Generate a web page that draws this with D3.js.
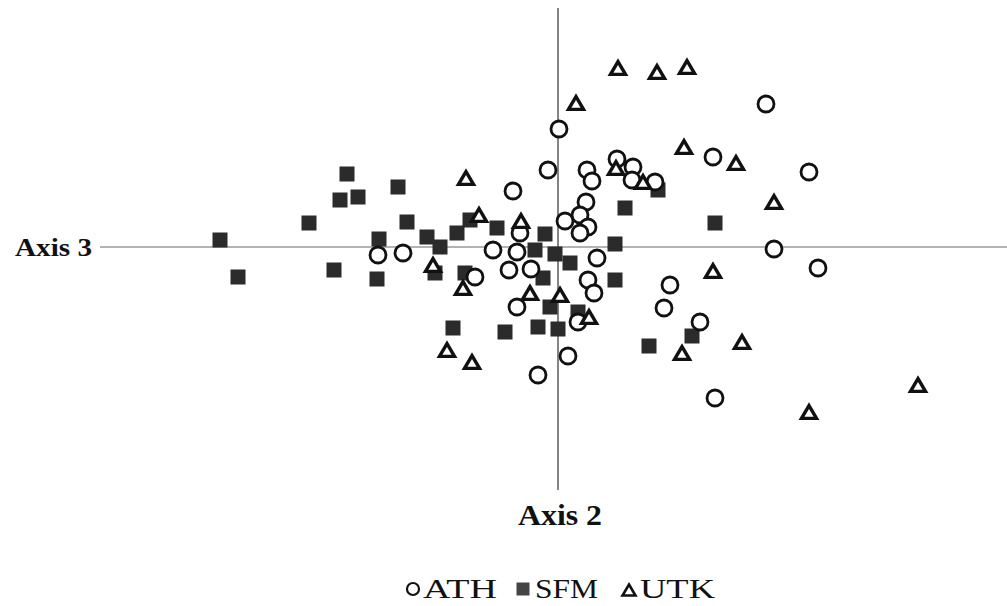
<!DOCTYPE html>
<html>
<head>
<meta charset="utf-8">
<script src="https://cdn.jsdelivr.net/npm/d3@7"></script>
<style>
  body { margin: 0; background: #fff; }
  svg { display: block; }
  text { font-family: "Liberation Serif", "Times New Roman", serif; fill: #111; }
</style>
</head>
<body>
<div id="chart"></div>
<script>
// ordination scores (axis 2 = horizontal, axis 3 = vertical)
var groups = ['ATH', 'SFM', 'UTK'];

var athX = [-1.80,-1.55,-0.83,-0.45,0.01,-0.10,0.29,0.34,0.59,0.75,0.74,0.97,0.28,0.22,0.07,0.30,0.22,-0.38,-0.65,-0.41,-0.49,-0.27,0.39,0.30,0.36,-0.41,0.20,0.10,-0.20,2.08,1.55,2.51,2.16,2.60,1.12,1.06,1.42,1.57];
var athY = [-0.08,-0.06,-0.30,0.56,1.18,0.77,0.77,0.66,0.88,0.80,0.67,0.65,0.45,0.32,0.26,0.20,0.14,0.14,-0.03,-0.05,-0.23,-0.22,-0.11,-0.33,-0.46,-0.60,-0.75,-1.09,-1.28,1.43,0.90,0.75,-0.02,-0.21,-0.38,-0.61,-0.75,-1.51];

var sfmX = [-2.11,-2.18,-2.00,-2.49,-3.38,-3.20,-2.24,-1.79,-1.81,-1.60,-1.51,-1.31,-1.18,-1.01,-0.88,-0.61,-1.23,-0.93,-0.13,-0.23,-0.03,0.12,-0.15,-0.08,0.20,-0.20,0.00,-0.53,-1.05,1.00,0.67,0.57,0.57,1.57,1.34,0.91];
var sfmY = [0.73,0.47,0.50,0.24,0.07,-0.30,-0.23,0.08,-0.32,0.60,0.25,0.10,0.00,0.14,0.27,0.19,-0.26,-0.26,0.13,-0.03,-0.07,-0.16,-0.31,-0.60,-0.65,-0.80,-0.82,-0.85,-0.81,0.57,0.39,0.03,-0.33,0.24,-0.89,-0.99];

var utkX = [0.60,0.99,1.29,0.18,1.26,0.58,0.85,1.78,2.16,1.55,1.84,1.24,3.60,2.51,-0.92,-0.79,-0.37,-1.25,-0.95,-0.28,0.02,0.31,-1.11,-0.86];
var utkY = [1.79,1.75,1.80,1.44,1.00,0.79,0.65,0.84,0.45,-0.24,-0.95,-1.06,-1.38,-1.65,0.69,0.32,0.26,-0.18,-0.41,-0.46,-0.48,-0.70,-1.03,-1.15];

var width = 1007, height = 606;

var x = d3.scaleLinear().domain([-5.58, 4.49]).range([0, width]);
var y = d3.scaleLinear().domain([2.47, -3.59]).range([0, height]);

var svg = d3.select('#chart').append('svg')
  .attr('width', width)
  .attr('height', height);

// axis lines through the origin
svg.append('line')
  .attr('x1', x(-4.58)).attr('x2', width)
  .attr('y1', y(0)).attr('y2', y(0))
  .attr('stroke', '#666').attr('stroke-width', 1);
svg.append('line')
  .attr('x1', x(0)).attr('x2', x(0))
  .attr('y1', y(2.39)).attr('y2', y(-2.43))
  .attr('stroke', '#333').attr('stroke-width', 1.2);

svg.append('text')
  .attr('x', 15).attr('y', y(0) + 9)
  .attr('textLength', 77).attr('lengthAdjust', 'spacingAndGlyphs')
  .style('font-size', '26px').style('font-weight', 'bold')
  .text('Axis 3');
svg.append('text')
  .attr('x', 518).attr('y', 525)
  .attr('textLength', 84).attr('lengthAdjust', 'spacingAndGlyphs')
  .style('font-size', '29px').style('font-weight', 'bold')
  .text('Axis 2');

function tri(s) {
  var w = s, h = s * 0.85;
  return 'M0,' + (-h / 2) + 'L' + (w / 2) + ',' + (h / 2) + 'L' + (-w / 2) + ',' + (h / 2) + 'Z';
}

function pts(xs, ys) {
  return xs.map(function(v, i) { return [v, ys[i]]; });
}

// SFM squares
svg.append('g').selectAll('rect')
  .data(pts(sfmX, sfmY))
  .enter().append('rect')
  .attr('x', function(d) { return x(d[0]) - 7.5; })
  .attr('y', function(d) { return y(d[1]) - 7.5; })
  .attr('width', 15).attr('height', 15)
  .attr('fill', '#2b2b2b');

// ATH circles
svg.append('g').selectAll('circle')
  .data(pts(athX, athY))
  .enter().append('circle')
  .attr('cx', function(d) { return x(d[0]); })
  .attr('cy', function(d) { return y(d[1]); })
  .attr('r', 8)
  .attr('fill', '#fff')
  .attr('stroke', '#111').attr('stroke-width', 2.8);

// UTK triangles
svg.append('g').selectAll('path')
  .data(pts(utkX, utkY))
  .enter().append('path')
  .attr('d', tri(15))
  .attr('transform', function(d) { return 'translate(' + x(d[0]) + ',' + y(d[1]) + ')'; })
  .attr('fill', '#fff')
  .attr('stroke', '#111').attr('stroke-width', 3.4)
  .attr('stroke-linejoin', 'miter');

// legend
var legendY = 589;
var leg = svg.append('g');
var items = [
  {name: groups[0], sx: 413, tx: 423, len: 74},
  {name: groups[1], sx: 523, tx: 535, len: 63},
  {name: groups[2], sx: 629, tx: 640, len: 75}
];
items.forEach(function(it, i) {
  if (i === 0) {
    leg.append('circle').attr('cx', it.sx).attr('cy', legendY).attr('r', 6)
      .attr('fill', '#fff').attr('stroke', '#111').attr('stroke-width', 2.2);
  } else if (i === 1) {
    leg.append('rect').attr('x', it.sx - 6.5).attr('y', legendY - 6.5)
      .attr('width', 13).attr('height', 13).attr('fill', '#444');
  } else {
    leg.append('path').attr('d', tri(13))
      .attr('transform', 'translate(' + it.sx + ',' + (legendY + 1) + ')')
      .attr('fill', '#fff').attr('stroke', '#111').attr('stroke-width', 2.6);
  }
  leg.append('text')
    .attr('x', it.tx).attr('y', legendY + 9)
    .attr('textLength', it.len).attr('lengthAdjust', 'spacingAndGlyphs')
    .style('font-size', '27px')
    .text(it.name);
});
</script>
</body>
</html>
